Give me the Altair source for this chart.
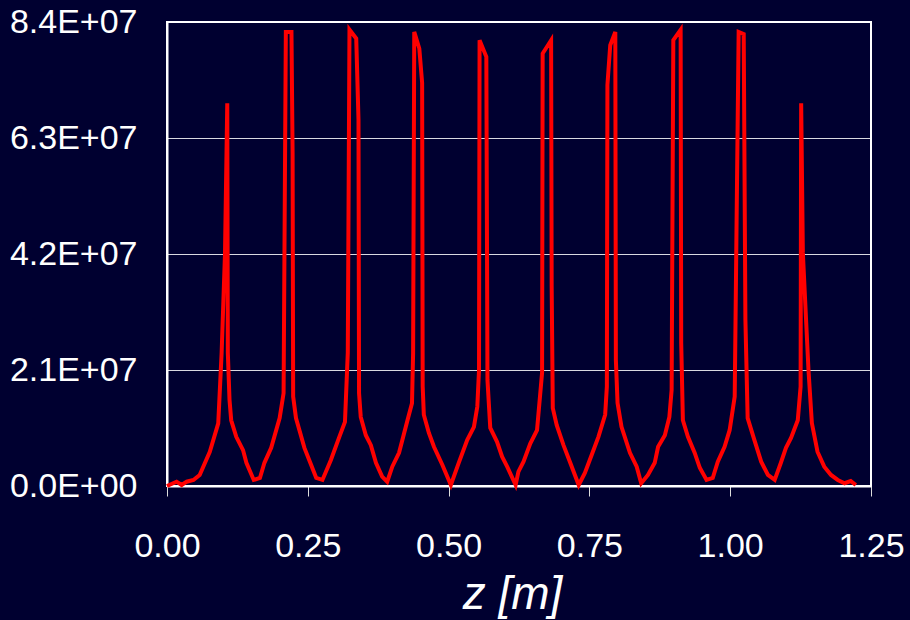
import altair as alt
import pandas as pd

# position along z [m]
z = [0.000, 0.017, 0.026, 0.035, 0.047, 0.058, 0.076, 0.091, 0.097, 0.103,
     0.107, 0.108, 0.111, 0.114, 0.123, 0.135, 0.141, 0.154, 0.165, 0.173,
     0.185, 0.200, 0.207, 0.211, 0.221, 0.223, 0.224, 0.229, 0.244, 0.256,
     0.265, 0.276, 0.291, 0.306, 0.316, 0.321, 0.324, 0.336, 0.340, 0.341,
     0.344, 0.353, 0.362, 0.371, 0.382, 0.391, 0.400, 0.412, 0.427, 0.435,
     0.437, 0.439, 0.448, 0.453, 0.454, 0.456, 0.465, 0.474, 0.489, 0.504,
     0.518, 0.533, 0.545, 0.551, 0.554, 0.555, 0.567, 0.569, 0.574, 0.586,
     0.595, 0.604, 0.619, 0.624, 0.633, 0.645, 0.657, 0.666, 0.667, 0.682,
     0.683, 0.685, 0.692, 0.704, 0.716, 0.731, 0.742, 0.754, 0.766, 0.778,
     0.781, 0.782, 0.787, 0.796, 0.797, 0.800, 0.807, 0.822, 0.834, 0.842,
     0.854, 0.866, 0.872, 0.884, 0.892, 0.896, 0.899, 0.912, 0.913, 0.916,
     0.925, 0.937, 0.946, 0.958, 0.969, 0.978, 0.990, 0.999, 1.008, 1.015,
     1.024, 1.027, 1.031, 1.043, 1.055, 1.067, 1.079, 1.090, 1.099, 1.108,
     1.120, 1.125, 1.126, 1.129, 1.139, 1.145, 1.155, 1.167, 1.179, 1.191,
     1.203, 1.214, 1.223]

# field values in units of 1E+06
field_millions = [0.0, 0.78, 0.18, 0.78, 1.09, 2.0, 6.2, 11.35, 24.1, 42.2,
                  69.3, 24.1, 15.6, 11.9, 8.9, 6.5, 4.2, 1.1, 1.45, 4.2,
                  6.9, 12.3, 16.8, 82.2, 82.2, 60.3, 16.2, 12.3, 6.9, 3.8,
                  1.45, 1.1, 4.7, 8.9, 11.6, 24.1, 82.6, 81.0, 66.3, 16.8,
                  12.5, 9.2, 7.4, 4.2, 1.7, 0.78, 3.5, 6.0, 11.9, 15.0,
                  24.1, 82.2, 79.2, 73.0, 18.0, 12.9, 9.6, 7.1, 3.8, 0.18,
                  4.2, 8.3, 10.7, 14.4, 21.0, 80.7, 77.7, 19.2, 10.5, 8.0,
                  5.3, 3.5, 0.18, 2.6, 4.4, 7.7, 10.1, 20.5, 78.3, 80.7,
                  36.1, 14.1, 11.0, 7.4, 4.2, 0.18, 2.35, 5.6, 8.9, 12.9,
                  18.0, 72.6, 79.8, 82.2, 22.8, 15.0, 10.7, 6.0, 3.5, 0.5,
                  2.0, 4.2, 7.1, 9.2, 12.5, 17.4, 80.7, 82.6, 25.9, 11.9,
                  8.9, 6.0, 3.3, 1.1, 1.45, 4.4, 7.1, 10.1, 16.2, 82.2,
                  81.8, 30.1, 12.3, 8.3, 4.4, 2.0, 1.1, 4.2, 6.9, 8.7,
                  11.9, 18.0, 69.3, 42.2, 21.0, 11.4, 6.2, 3.5, 2.0, 1.1,
                  0.5, 0.9, 0.18]

x_ticks = [0.0, 0.25, 0.5, 0.75, 1.0, 1.25]
y_ticks = [0.0, 2.1e7, 4.2e7, 6.3e7, 8.4e7]

BG = "#000030"

df = pd.DataFrame({
    "z": z,
    "E": [v * 1e6 for v in field_millions],
    "i": list(range(len(z))),
})

chart = (
    alt.Chart(df)
    .mark_line(color="#ff0000", strokeWidth=4)
    .encode(
        x=alt.X(
            "z:Q",
            scale=alt.Scale(domain=[0, 1.25], nice=False, zero=False),
            axis=alt.Axis(
                values=x_ticks,
                format=".2f",
                title="z [m]",
                grid=False,
                ticks=True,
                tickSize=10,
                tickColor="#dddddd",
                tickWidth=1,
                labelFlush=False,
                labelOverlap=False,
                labelPadding=60,
                labelBaseline="alphabetic",
                titleFontStyle="italic",
                titleFontSize=46,
                titleFontWeight="normal",
                titleBaseline="alphabetic",
                titleX=345,
                titleY=122,
                titleAlign="center",
            ),
        ),
        y=alt.Y(
            "E:Q",
            scale=alt.Scale(domain=[0, 8.4e7], nice=False),
            axis=alt.Axis(
                values=y_ticks,
                labelExpr="datum.value == 0 ? '0.0E+00' : format(datum.value / 1e7, '.1f') + 'E+07'",
                title=None,
                grid=True,
                gridColor="#ffffff",
                gridWidth=1,
                gridOpacity=0.85,
                ticks=False,
                labelPadding=30,
                labelBaseline="middle",
                labelOverlap=False,
            ),
        ),
        order="i:Q",
    )
    .properties(
        width=704,
        height=464,
        background=BG,
        padding={"left": 167, "top": 22, "right": 39, "bottom": 134},
        autosize=alt.AutoSizeParams(type="none"),
    )
    .configure_view(stroke="#ffffff", strokeWidth=2)
    .configure_axis(
        labelFont="Liberation Sans",
        labelFontSize=34,
        labelColor="#ffffff",
        titleFont="Liberation Sans",
        titleColor="#ffffff",
        domainColor="#ffffff",
        domainWidth=2,
    )
)

chart.save(
    "out.html",
    embed_options={
        "renderer": "svg",
        "actions": False,
        "defaultStyle": "html,body{margin:0;padding:0;background:" + BG + ";overflow:hidden}",
    },
)
